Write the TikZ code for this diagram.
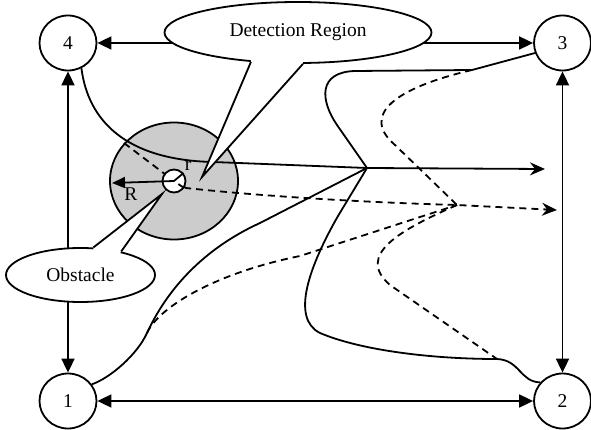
\documentclass[tikz,border=0pt]{standalone}
\usepackage{fontspec}
\setmainfont{Liberation Serif}
\usetikzlibrary{arrows.meta,shapes.geometric,calc}
\begin{document}
\begin{tikzpicture}[x=1pt,y=-1pt, line width=1.8pt,
  lbl/.style={font=\fontsize{19.5}{22}\selectfont},
  corner/.style={draw, ellipse, minimum width=57pt, minimum height=55pt, inner sep=0pt, lbl},
  link/.style={{Triangle[length=14pt,width=13pt]}-{Triangle[length=14pt,width=13pt]}},
  dsh/.style={dash pattern=on 7pt off 5pt},
  tipped/.style={-{Stealth[length=15pt,width=13pt,inset=5pt]}},
  bubble/.style={draw, ellipse, fill=white, inner sep=0pt}]
\useasboundingbox (0,0) rectangle (591,430);

% corner nodes
\node[corner] (n4) at (68,43) {4};
\node[corner] (n3) at (562.5,43) {3};
\node[corner] (n1) at (68,401) {1};
\node[corner] (n2) at (562.5,401) {2};

% detection disc
\node[draw, ellipse, fill=gray!40, minimum width=128pt, minimum height=117pt, inner sep=0pt] (disc) at (174,181) {};

% links between corners
\draw[link] (n4) -- (n3);
\draw[link] (n4) -- (n1);
\draw[link] (n3) -- (n2);
\draw[link] (n1) -- (n2);

% junctions and points
\coordinate (J) at (367,168);
\coordinate (K) at (457,205);
\coordinate (A) at (545,169);
\coordinate (B) at (557,210);
\coordinate (P3) at (472,70);
\coordinate (P2) at (497,359);
\coordinate (P1) at (147,333);
\coordinate (P4) at (124,143);

% solid trajectories
\draw[tipped] (n4.-62) .. controls (88,120) and (125,160) .. (213,162) -- (J) -- (A);
\draw (n3.-160) -- (P3) -- (355,71) .. controls (318,72) and (320,100) .. (337,125) -- (J);
\draw (J) -- (338,216) .. controls (310,265) and (290,318) .. (320,333)
      .. controls (360,350) and (430,359) .. (P2) .. controls (520,360) and (520,382) .. (n2.140);
\draw (n1.35) .. controls (110,378) and (137,355) .. (P1) .. controls (160,305) and (190,255) .. (260,223) -- (J);

% dashed trajectories
\draw[dsh] (P3) .. controls (395,88) and (360,115) .. (395,145) -- (K);
\draw[dsh] (K) .. controls (400,230) and (355,255) .. (390,285) -- (P2);
\draw[dsh] (P1) .. controls (160,305) and (220,272) .. (300,256) -- (K);
\draw[dsh] (P4) -- (174,181);
\draw[dsh, tipped] (174,181) -- (186,188) .. controls (250,195) and (350,202) .. (K) -- (B);

% obstacle
\node[draw, circle, fill=white, minimum size=23pt, inner sep=0pt] (obs) at (174,181) {};
\draw[dsh] (obs.-35) -- (obs.center);
\draw (obs.center) -- (obs.40);
\draw[-{Triangle[length=13pt,width=11pt]}] (obs.center) -- (112,183);
\node[lbl] at (131,194) {R};
\node[lbl] at (188,166) {r};

% detection region callout
\node[bubble, minimum width=267pt, minimum height=61pt] (det) at (298,32.5) {};
\coordinate (dt) at (202,177);
\fill[white] (det.-148) -- (dt) -- (det.-81) -- ($(det.-81)+(0,-5)$) -- ($(det.-148)+(0,-5)$) -- cycle;
\draw[line join=miter] (det.-148) -- (dt) -- (det.-81);
\node[lbl] at (det) {Detection Region};

% obstacle callout
\node[bubble, minimum width=149pt, minimum height=54pt] (obl) at (80.5,275) {};
\coordinate (ot) at (162,194);
\fill[white] (obl.65) -- (ot) -- (obl.30) -- ($(obl.30)+(-3,5)$) -- ($(obl.65)+(0,5)$) -- cycle;
\draw[line join=miter] (obl.65) -- (ot) -- (obl.30);
\node[lbl] at (obl) {Obstacle};
\end{tikzpicture}
\end{document}
